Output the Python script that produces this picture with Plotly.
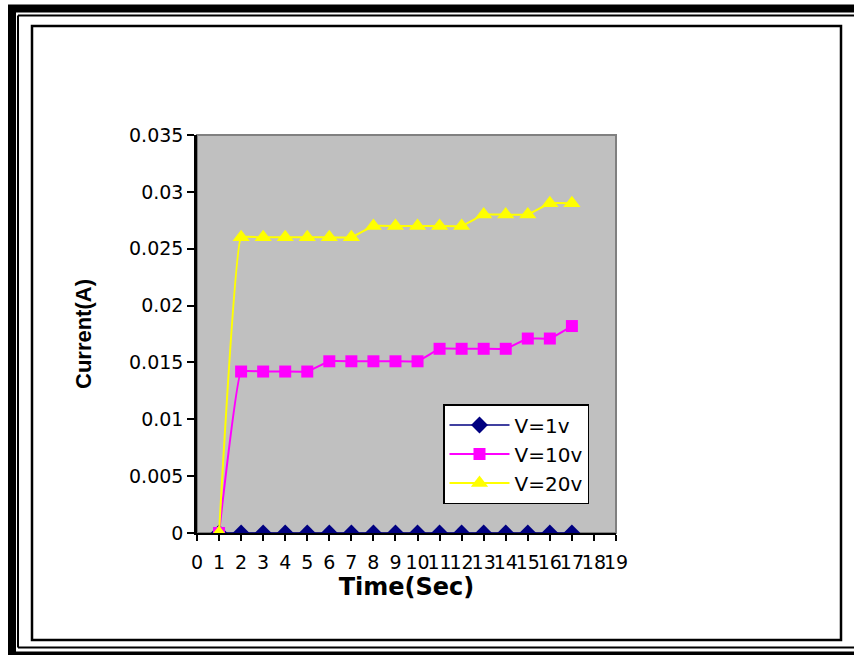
import plotly.graph_objects as go

time_s = list(range(1, 18))
v1 = [0] * 17
v10 = [0, 0.0142, 0.0142, 0.0142, 0.0142, 0.0151, 0.0151, 0.0151, 0.0151, 0.0151,
       0.0162, 0.0162, 0.0162, 0.0162, 0.0171, 0.0171, 0.0182]
v20 = [0, 0.026, 0.026, 0.026, 0.026, 0.026, 0.026, 0.027, 0.027, 0.027, 0.027, 0.027,
       0.028, 0.028, 0.028, 0.029, 0.029]
series_names = ["V=1v", "V=10v", "V=20v"]
x_ticks = list(range(0, 20))
y_ticks = [0, 0.005, 0.01, 0.015, 0.02, 0.025, 0.03, 0.035]
y_tick_labels = ["0", "0.005", "0.01", "0.015", "0.02", "0.025", "0.03", "0.035"]

W, H = 854, 655
L, R, T, B = 197, 616, 135, 533


def px(x):
    return (x - L) / (R - L)


def py(y):
    return (B - y) / (B - T)


fig = go.Figure()
fig.add_trace(go.Scatter(x=time_s, y=v1, name=series_names[0], mode="lines+markers",
                         line=dict(color="#000080", width=1.5, shape="spline", smoothing=0.25),
                         marker=dict(symbol="diamond", size=13, color="#000080")))
fig.add_trace(go.Scatter(x=time_s, y=v10, name=series_names[1], mode="lines+markers",
                         line=dict(color="#FF00FF", width=2, shape="spline", smoothing=0.25),
                         marker=dict(symbol="square", size=12, color="#FF00FF")))
fig.add_trace(go.Scatter(x=time_s, y=v20, name=series_names[2], mode="lines+markers",
                         line=dict(color="#FFFF00", width=2, shape="spline", smoothing=0.25),
                         marker=dict(symbol="triangle-up", size=15, color="#FFFF00")))

shapes = []
shapes.append(dict(type="rect", xref="paper", yref="paper", x0=0, x1=1, y0=0, y1=1,
                   line=dict(color="#808080", width=2), layer="below"))


def rect(x0, y0, x1, y1, w):
    shapes.append(dict(type="rect", xref="paper", yref="paper",
                       x0=px(x0), x1=px(x1), y0=py(y1), y1=py(y0),
                       line=dict(color="black", width=w)))


def hline(x0, x1, y, w):
    shapes.append(dict(type="line", xref="paper", yref="paper",
                       x0=px(x0), x1=px(x1), y0=py(y), y1=py(y),
                       line=dict(color="black", width=w)))


def vline(x, y0, y1, w):
    shapes.append(dict(type="line", xref="paper", yref="paper",
                       x0=px(x), x1=px(x), y0=py(y0), y1=py(y1),
                       line=dict(color="black", width=w)))


rect(32, 26, 841, 640, 2.5)
hline(18, 860, 15.5, 2)
hline(18, 860, 647.5, 2)
vline(18, 15.5, 647.5, 2)
hline(8, 860, 8.5, 8)
hline(8, 860, 654, 5)
vline(12, 5, 660, 8)

fig.update_layout(
    width=W, height=H,
    margin=dict(l=L, r=W - R, t=T, b=H - B, pad=0),
    paper_bgcolor="white",
    plot_bgcolor="#C0C0C0",
    font=dict(family="DejaVu Sans", size=19, color="black"),
    shapes=shapes,
    showlegend=True,
    legend=dict(x=px(443), y=py(404), xanchor="left", yanchor="top",
                bgcolor="white", bordercolor="black", borderwidth=1.5,
                font=dict(family="DejaVu Sans", size=20, color="black"),
                itemwidth=60, tracegroupgap=0),
    xaxis=dict(range=[0, 19], tickmode="array", tickvals=x_ticks,
               ticktext=[str(v) for v in x_ticks], tickangle=0, ticklabelstandoff=5,
               showgrid=False, zeroline=False, showline=True, linecolor="black",
               linewidth=2, ticks="outside", ticklen=6, tickwidth=1.5, tickcolor="black",
               tickfont=dict(family="DejaVu Sans", size=19),
               title=dict(text="<b>Time(Sec)</b>", standoff=2,
                          font=dict(family="DejaVu Sans", size=24))),
    yaxis=dict(range=[0, 0.035], tickmode="array", tickvals=y_ticks, ticktext=y_tick_labels,
               showgrid=False, zeroline=False, showline=True, linecolor="black",
               linewidth=2.5, ticks="outside", ticklen=7, tickwidth=1.5, tickcolor="black",
               tickfont=dict(family="DejaVu Sans", size=19),
               title=dict(text="<b>Current(A)</b>", standoff=32,
                          font=dict(family="Liberation Sans", size=22))),
)

fig.write_html("out.html")
